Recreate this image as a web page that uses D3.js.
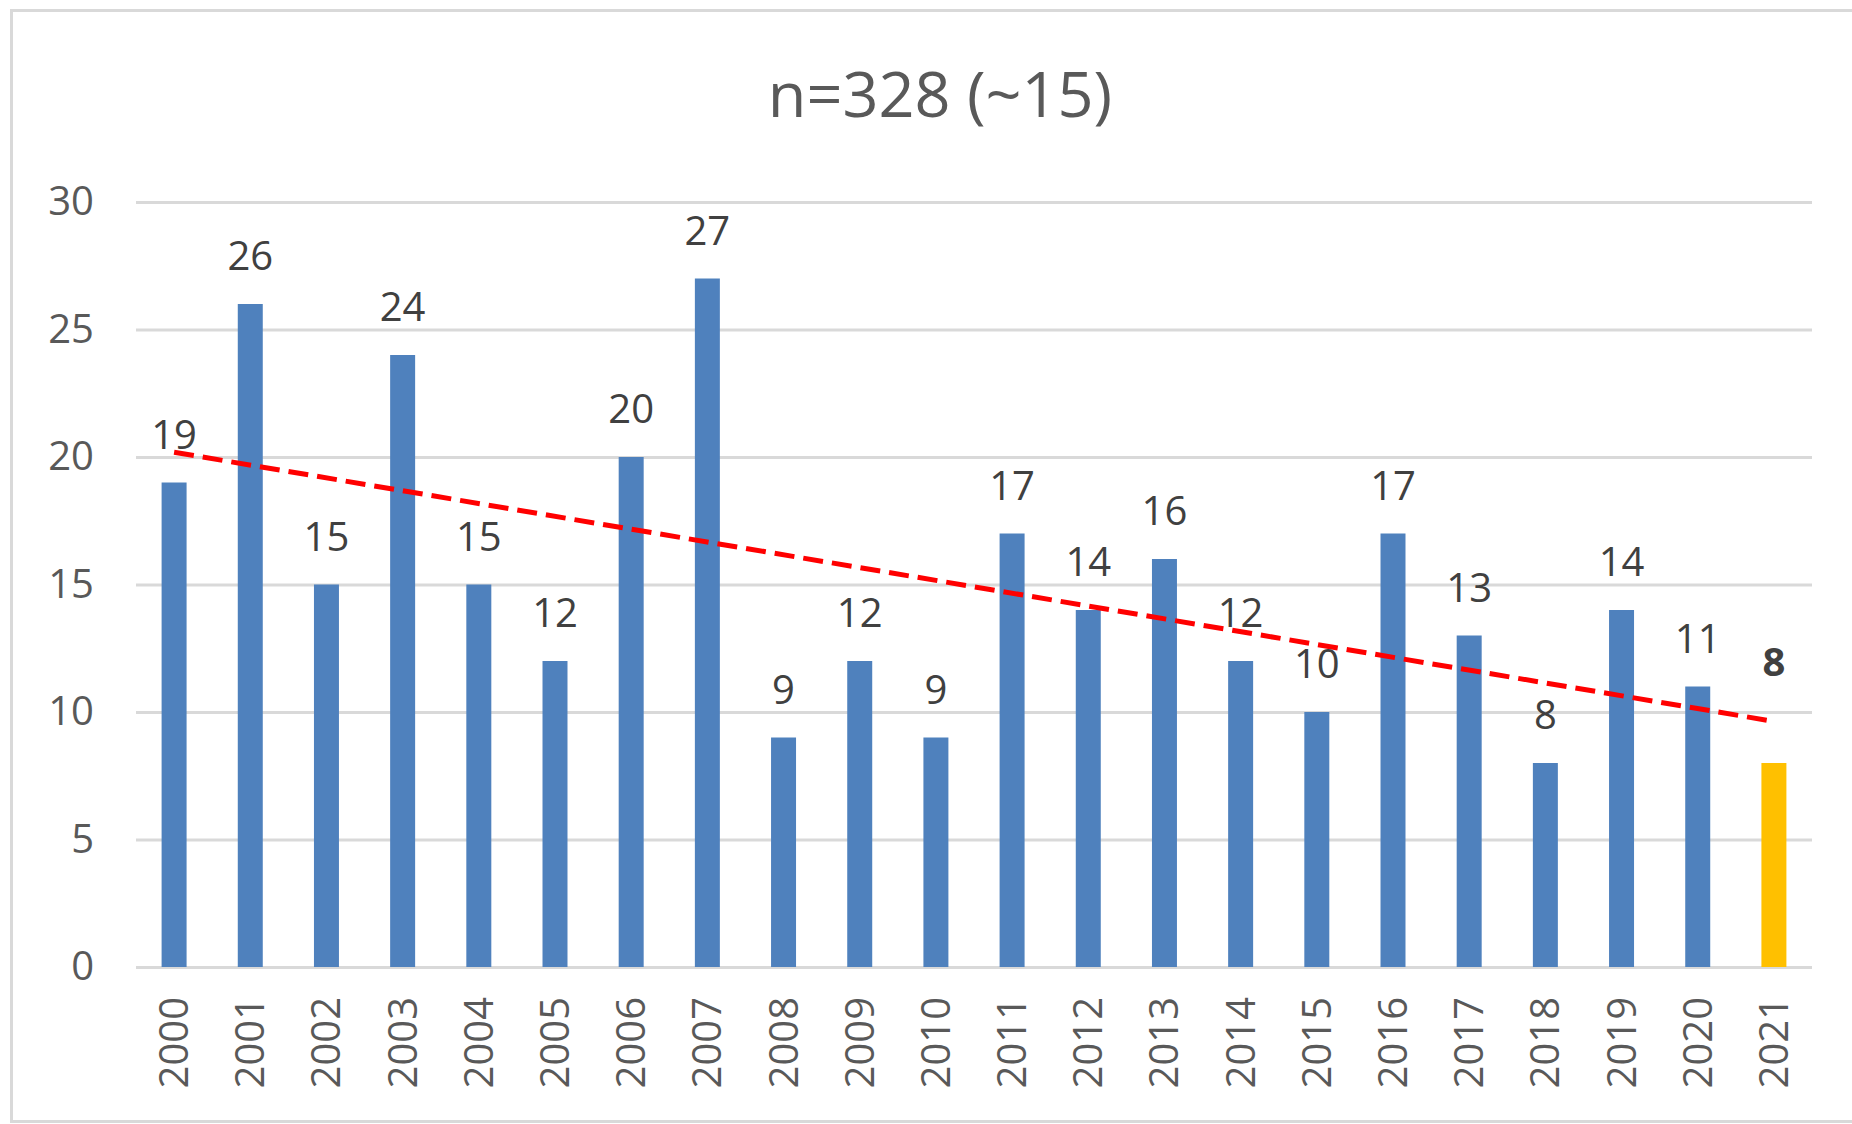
<!doctype html>
<html lang="">
    <head>
        <meta charset="utf-8">
        <title>n=328</title>
        <script src="https://d3js.org/d3.v7.min.js"></script>
        <style>
         body { margin: 0; background: #fff; }
         text { font-family: "Open Sans", sans-serif; }
        </style>
    </head>
    <body>
        <div id="main"></div>
    </body>

    <script type="text/javascript">
     // data
     const years = ['2000', '2001', '2002', '2003', '2004', '2005', '2006', '2007', '2008', '2009', '2010',
                    '2011', '2012', '2013', '2014', '2015', '2016', '2017', '2018', '2019', '2020', '2021']
     const counts = [19, 26, 15, 24, 15, 12, 20, 27, 9, 12, 9, 17, 14, 16, 12, 10, 17, 13, 8, 14, 11, 8]
     const yTicks = [0, 5, 10, 15, 20, 25, 30]
     const highlightYear = '2021'
     const title = 'n=328 (~15)'

     const width = 1852
     const height = 1124
     const plot = {left: 136, right: 1812, top: 202, bottom: 967}

     const svg = d3.select('#main')
                   .append('svg')
                   .attr('width', width)
                   .attr('height', height)

     // chart frame (runs off the right edge like the screenshot)
     svg.append('rect')
        .attr('x', 11.5).attr('y', 10.5)
        .attr('width', width + 20).attr('height', 1111)
        .attr('fill', '#fff')
        .attr('stroke', '#d9d9d9')
        .attr('stroke-width', 3)

     const x = d3.scaleBand()
                 .domain(years)
                 .range([plot.left, plot.right])
                 .paddingInner(0.672)
                 .paddingOuter(0.336)

     const y = d3.scaleLinear()
                 .domain([0, 30])
                 .range([plot.bottom, plot.top])

     // gridlines + y labels
     const yAxis = svg.append('g')
                      .attr('transform', `translate(${plot.left},0)`)
                      .call(d3.axisLeft(y).tickValues(yTicks).tickSize(-(plot.right - plot.left)).tickPadding(42))
     yAxis.select('.domain').remove()
     yAxis.selectAll('line').attr('stroke', '#d9d9d9').attr('stroke-width', 3)
     yAxis.selectAll('text')
          .attr('fill', '#595959')
          .style('font-size', '40px')
          .style('font-family', '"Open Sans", sans-serif')

     // bars
     svg.append('g')
        .selectAll('rect')
        .data(counts)
        .enter()
        .append('rect')
        .attr('x', (d, i) => x(years[i]))
        .attr('y', d => y(d))
        .attr('width', x.bandwidth())
        .attr('height', d => y(0) - y(d))
        .attr('fill', (d, i) => years[i] === highlightYear ? '#ffc000' : '#4f81bd')

     // linear trendline, computed from the counts like Excel does
     const xs = d3.range(counts.length)
     const mx = d3.mean(xs)
     const my = d3.mean(counts)
     const slope = d3.sum(xs, i => (i - mx) * (counts[i] - my)) / d3.sum(xs, i => (i - mx) ** 2)
     const icpt = my - slope * mx
     const cx = i => x(years[i]) + x.bandwidth() / 2

     svg.append('line')
        .attr('x1', cx(0))
        .attr('y1', y(icpt))
        .attr('x2', cx(counts.length - 1))
        .attr('y2', y(icpt + slope * (counts.length - 1)))
        .attr('stroke', '#ff0000')
        .attr('stroke-width', 5)
        .attr('stroke-dasharray', '20,9')

     // value labels
     svg.append('g')
        .selectAll('text')
        .data(counts)
        .enter()
        .append('text')
        .attr('x', (d, i) => cx(i))
        .attr('y', (d, i) => y(d) - (years[i] === highlightYear ? 87 : 34))
        .attr('text-anchor', 'middle')
        .attr('fill', '#404040')
        .style('font-size', '40px')
        .style('font-weight', (d, i) => years[i] === highlightYear ? 'bold' : 'normal')
        .text(d => d)

     // category labels, rotated
     svg.append('g')
        .selectAll('text')
        .data(years)
        .enter()
        .append('text')
        .attr('transform', d => `translate(${x(d) + x.bandwidth() / 2},997)rotate(-90)`)
        .attr('dy', '.35em')
        .attr('text-anchor', 'end')
        .attr('fill', '#595959')
        .style('font-size', '40px')
        .text(d => d)

     svg.append('text')
        .attr('x', 940)
        .attr('y', 117)
        .attr('text-anchor', 'middle')
        .attr('fill', '#595959')
        .style('font-size', '63px')
        .text(title)
    </script>
</html>
